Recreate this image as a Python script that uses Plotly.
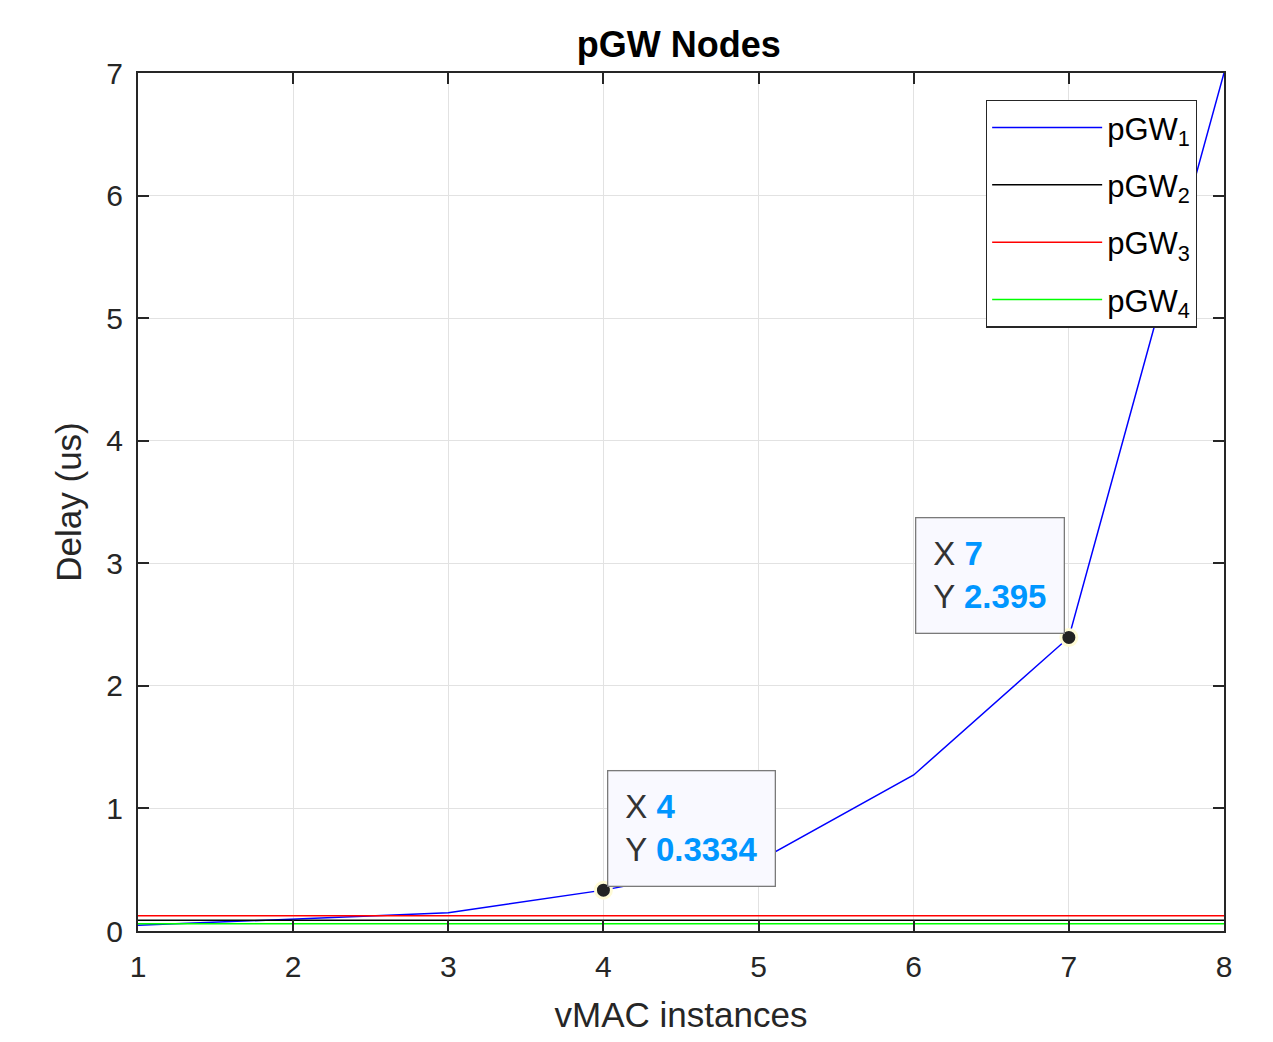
import plotly.graph_objects as go

x_vals = [1, 2, 3, 4, 5, 6, 7, 8]
pgw1 = [0.046, 0.10, 0.149, 0.3334, 0.57, 1.273, 2.395, 7.0]
pgw2 = [0.088] * 8
pgw3 = [0.125] * 8
pgw4 = [0.060] * 8
names = ["pGW<sub>1</sub>", "pGW<sub>2</sub>", "pGW<sub>3</sub>", "pGW<sub>4</sub>"]
colors = ["#0000ff", "#000000", "#ff0000", "#00ff00"]
tip_x = [4, 7]
tip_y = [0.3334, 2.395]
x_ticks = [1, 2, 3, 4, 5, 6, 7, 8]
y_ticks = [0, 1, 2, 3, 4, 5, 6, 7]

FONT = "Liberation Sans, Arial, sans-serif"
AX = "#262626"

fig = go.Figure()
for i, (name, ys, c) in enumerate(zip(names, [pgw1, pgw2, pgw3, pgw4], colors)):
    fig.add_trace(go.Scatter(x=x_vals, y=ys, mode="lines", name=name, legendgroup=f"g{i}",
                             line=dict(color=c, width=1.5)))

fig.add_trace(go.Scatter(x=tip_x, y=tip_y, mode="markers", showlegend=False,
                         marker=dict(color="#222222", size=16,
                                     line=dict(color="#fffbd6", width=3))))

for tx, ty, side in zip(tip_x, tip_y, ["left", "right"]):
    fig.add_annotation(
        x=tx, y=ty, xref="x", yref="y", xanchor=side, yanchor="bottom",
        xshift=4 if side == "left" else -4, yshift=3, showarrow=False, align="left",
        text=(f"<span style='color:#333333'>X </span><b style='color:#0096ff'>{tx}</b><br>"
              f"<span style='color:#333333'>Y </span><b style='color:#0096ff'>{ty:g}</b>"),
        font=dict(family=FONT, size=33, color="#333333"),
        bgcolor="#f9f9ff", bordercolor="#7a7a7a", borderwidth=1.3, borderpad=17,
    )

fig.update_layout(
    width=1273, height=1042,
    margin=dict(l=130, r=57, t=65, b=119),
    paper_bgcolor="white", plot_bgcolor="white",
    title=dict(text="<b>pGW Nodes</b>", x=0.527, xanchor="center", y=0.965, yanchor="middle",
               font=dict(family=FONT, size=36, color="#000000")),
    legend=dict(x=0.975, y=0.969, xanchor="right", yanchor="top",
                bgcolor="white", bordercolor=AX, borderwidth=1.3,
                font=dict(family=FONT, size=31, color="#000000"),
                itemwidth=110, tracegroupgap=14),
    font=dict(family=FONT, color=AX),
)
axis_common = dict(showline=True, linecolor=AX, linewidth=2, mirror="ticks",
                   ticks="inside", ticklen=11, tickwidth=2, tickcolor=AX,
                   showgrid=True, gridcolor="#e2e2e2", gridwidth=1.2,
                   zeroline=False, tickfont=dict(family=FONT, size=30, color=AX))
fig.update_xaxes(range=[1, 8], tickvals=x_ticks, ticklabelstandoff=8,
                 title=dict(text="vMAC instances", font=dict(family=FONT, size=35, color=AX), standoff=20),
                 **axis_common)
fig.update_yaxes(range=[0, 7], tickvals=y_ticks, ticklabelstandoff=7,
                 title=dict(text="Delay (us)", font=dict(family=FONT, size=35, color=AX), standoff=14),
                 **axis_common)

fig.write_html("out.html")
